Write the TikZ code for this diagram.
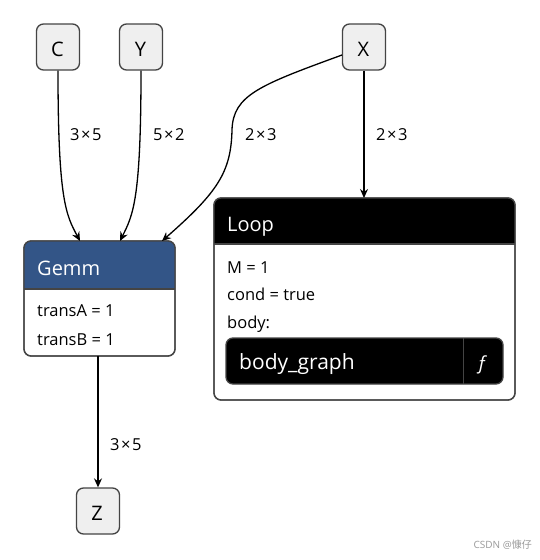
\documentclass[tikz,border=0pt]{standalone}
\usepackage{fontspec}
\setmainfont{Open Sans}
\newfontfamily\cjk{Noto Sans CJK SC}
\usetikzlibrary{arrows.meta}
\definecolor{gemmblue}{HTML}{335587}
\definecolor{inbox}{HTML}{EFEFEF}
\definecolor{edgegray}{HTML}{444444}
\newcommand{\tm}{\hspace{1.5pt}×\hspace{1.5pt}}
\begin{document}
\begin{tikzpicture}[x=1pt,y=-1pt,
  iobox/.style={draw=edgegray, fill=inbox, line width=1.3pt, rounded corners=7pt,
    minimum width=43pt, minimum height=46pt, inner sep=0pt},
  iotext/.style={font=\fontsize{20}{20}\selectfont, anchor=base, inner sep=0pt},
  opframe/.style={draw=edgegray, line width=1.3pt, rounded corners=7pt, inner sep=0pt},
  arr/.style={-{Stealth[length=9pt,width=8pt,inset=3pt]}, line width=1.3pt},
  lbl/.style={font=\fontsize{16.5}{16.5}\selectfont, anchor=base west, inner sep=0pt},
  attr/.style={font=\fontsize{16.5}{16.5}\selectfont, anchor=base west, inner sep=0pt},
  title/.style={font=\fontsize{20}{20}\selectfont, anchor=base west, inner sep=0pt, text=white}]
\useasboundingbox (0,0) rectangle (540,560);
\fill[white] (0,0) rectangle (540,560);

% input nodes
\node[iobox] (C) at (58,47) {};
\node[iobox] (Y) at (141,47) {};
\node[iobox] (X) at (364,47) {};
\node[iobox] (Z) at (98,511) {};
\node[iotext] (Ct) at (57.5,56.5) {C};
\node[iotext] (Yt) at (140.5,56.5) {Y};
\node[iotext] (Xt) at (363.5,56.5) {X};
\node[iotext] (Zt) at (97,520) {Z};

% Gemm
\node[opframe, fill=white, minimum width=151pt, minimum height=115pt] (gemm) at (99.5,298.5) {};
\begin{scope}
  \clip[rounded corners=7pt] (24,241) rectangle (175,356);
  \fill[gemmblue] (24,241) rectangle (175,289);
\end{scope}
\draw[edgegray, line width=1.3pt] (24,289) -- (175,289);
\draw[edgegray, line width=1.3pt, rounded corners=7pt] (24,241) rectangle (175,356);
\node[title] (gemmt) at (37,275) {Gemm};
\node[attr] (ta) at (37,316.5) {transA = 1};
\node[attr] (tb) at (37,345) {transB = 1};

% Loop
\node[opframe, fill=white, minimum width=301pt, minimum height=202pt] (loop) at (364.5,299) {};
\begin{scope}
  \clip[rounded corners=7pt] (214,198) rectangle (515,400);
  \fill[black] (214,198) rectangle (515,244);
\end{scope}
\draw[edgegray, line width=1.3pt] (214,244) -- (515,244);
\draw[edgegray, line width=1.3pt, rounded corners=7pt] (214,198) rectangle (515,400);
\node[title] (loopt) at (227,231.5) {Loop};
\node[attr] (m) at (227,273) {M = 1};
\node[attr] (cond) at (227,300.5) {cond = true};
\node[attr] (body) at (227,328) {body:};
\node[draw=edgegray, fill=black, line width=1.3pt, rounded corners=7pt,
  minimum width=277pt, minimum height=46pt, inner sep=0pt] (bg) at (364.5,361) {};
\draw[edgegray, line width=1pt] (463,338) -- (463,384);
\node[title, font=\fontsize{21}{21}\selectfont] (bgt) at (239,369.5) {body\_graph};
\node[title, anchor=base, font=\itshape\fontsize{19}{19}\selectfont] (fn) at (482,369) {ƒ};

% connectors
\draw[arr] (C.south) .. controls (58,200) and (66,215) .. (80,241);
\draw[arr] (Y.south) .. controls (141,200) and (133,215) .. (120,241);
\coordinate (xw) at (342,55);
\coordinate (xm) at (232,130);
\coordinate (gr) at (162,241);
\draw[arr] (xw) .. controls (260,85) and (233,95) .. (xm) .. controls (231,172) and (218,192) .. (gr);
\draw[arr] (X.south) -- (364,198);
\draw[arr] (98,356) -- (Z.north);

% edge labels
\node[lbl] at (70,140) {3\tm5};
\node[lbl] at (153,140) {5\tm2};
\node[lbl] at (245,140) {2\tm3};
\node[lbl] at (376,140) {2\tm3};
\node[lbl] at (110,450) {3\tm5};

\node[font=\fontsize{10}{10}\selectfont, text=gray!80, anchor=east, inner sep=0pt] (wm) at (532,545) {CSDN @\cjk 慷仔};
\end{tikzpicture}
\end{document}
